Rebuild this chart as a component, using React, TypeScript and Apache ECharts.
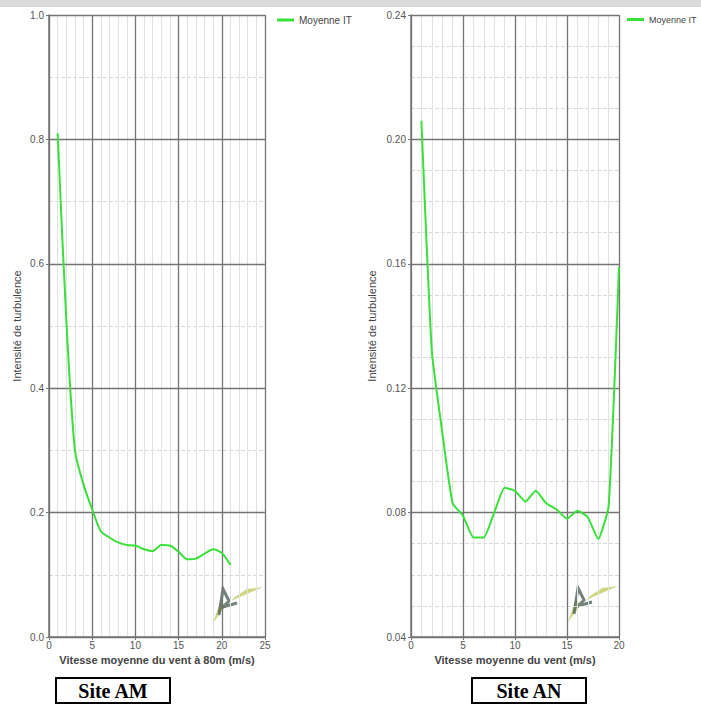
import React, { useEffect, useRef } from 'react';
import * as echarts from 'echarts';

// Site AM: intensité de turbulence vs vitesse (m/s)
const amSpeeds = [1, 2, 3, 4, 5, 6, 7, 8, 9, 10, 11, 12, 13, 14, 15, 16, 17, 18, 19, 20, 21];
const amTurbulence = [
  0.81, 0.51, 0.3, 0.245, 0.205, 0.17, 0.16, 0.152, 0.148, 0.147, 0.141,
  0.138, 0.148, 0.147, 0.137, 0.125, 0.126, 0.134, 0.141, 0.135, 0.116,
];

// Site AN
const anSpeeds = [1, 2, 3, 4, 5, 6, 7, 8, 9, 10, 11, 12, 13, 14, 15, 16, 17, 18, 19, 20];
const anTurbulence = [
  0.206, 0.132, 0.106, 0.083, 0.079, 0.072, 0.072, 0.08, 0.088, 0.087,
  0.0835, 0.087, 0.083, 0.081, 0.078, 0.0806, 0.0785, 0.0715, 0.082, 0.159,
];

const seriesName = 'Moyenne IT';
const yAxisTitle = 'Intensité de turbulence';
const amXTitle = 'Vitesse moyenne du vent à 80m (m/s)';
const anXTitle = 'Vitesse moyenne du vent (m/s)';
const siteLabels = ['Site AM', 'Site AN'];

const GREEN = '#3ae03a';
const FONT = 'Liberation Sans, Arial, sans-serif';
const MAJOR = '#747474';

// main axes: labels, ticks, major grid (drawn on top)
const xAxisMain = (gridIndex: number, max: number, name: string) => ({
  type: 'value' as const,
  gridIndex,
  min: 0,
  max,
  interval: 5,
  z: 2,
  name,
  nameLocation: 'middle' as const,
  nameGap: 17,
  nameTextStyle: { color: '#444', fontSize: 11, fontWeight: 'bold' as const, fontFamily: FONT },
  axisLine: { show: true, lineStyle: { color: MAJOR, width: 1.5 } },
  axisTick: { show: true, length: 3, lineStyle: { color: MAJOR } },
  axisLabel: { color: '#555', fontSize: 10, margin: 3, fontFamily: FONT },
  splitLine: { show: true, lineStyle: { color: MAJOR, width: 1.3 } },
});

// minor-only axes underneath
const xAxisMinor = (gridIndex: number, max: number) => ({
  type: 'value' as const,
  gridIndex,
  min: 0,
  max,
  interval: 5,
  z: 0,
  axisLine: { show: false },
  axisTick: { show: false },
  axisLabel: { show: false },
  splitLine: { show: false },
  minorTick: { show: false, splitNumber: 5 },
  minorSplitLine: { show: true, lineStyle: { color: '#e2e2e2', width: 1 } },
});

const yAxisMain = (gridIndex: number, min: number, max: number, interval: number, digits: number, gap: number) => ({
  type: 'value' as const,
  gridIndex,
  min,
  max,
  interval,
  z: 2,
  name: yAxisTitle,
  nameLocation: 'middle' as const,
  nameGap: gap,
  nameTextStyle: { color: '#444', fontSize: 11, fontFamily: FONT },
  axisLine: { show: true, lineStyle: { color: MAJOR, width: 1.5 } },
  axisTick: { show: true, length: 3, lineStyle: { color: MAJOR } },
  axisLabel: {
    color: '#555',
    fontSize: 10,
    margin: 5,
    fontFamily: FONT,
    formatter: (v: number) => v.toFixed(digits),
  },
  splitLine: { show: true, lineStyle: { color: MAJOR, width: 1.3 } },
});

const yAxisMinor = (gridIndex: number, min: number, max: number, interval: number, minorSplit: number) => ({
  type: 'value' as const,
  gridIndex,
  min,
  max,
  interval,
  z: 0,
  axisLine: { show: false },
  axisTick: { show: false },
  axisLabel: { show: false },
  splitLine: { show: false },
  minorTick: { show: false, splitNumber: minorSplit },
  minorSplitLine: { show: true, lineStyle: { color: '#d8d8d8', width: 1, type: 'dashed' as const } },
});

// rough stand-in for the watermark logo in each plot
const logo = (ox: number, oy: number) => [
  {
    type: 'polygon',
    shape: { points: [[ox + 2, oy + 38], [ox + 10, oy + 14], [ox + 14, oy + 22], [ox + 8, oy + 30]] },
    style: { fill: 'rgba(190,200,90,0.75)' },
  },
  {
    type: 'polygon',
    shape: { points: [[ox + 20, oy + 16], [ox + 52, oy + 2], [ox + 36, oy + 4], [ox + 24, oy + 12]] },
    style: { fill: 'rgba(190,200,90,0.75)' },
  },
  {
    type: 'polyline',
    shape: { points: [[ox + 8, oy + 30], [ox + 12, oy + 4], [ox + 18, oy + 16], [ox + 12, oy + 22], [ox + 26, oy + 18]] },
    style: { stroke: 'rgba(80,100,90,0.8)', lineWidth: 3, fill: 'none' },
  },
];

const siteBox = (x: number, label: string) => [
  {
    type: 'rect',
    shape: { x, y: 678, width: 114, height: 25 },
    style: { fill: '#fff', stroke: '#000', lineWidth: 2 },
  },
  {
    type: 'text',
    x: x + 57,
    y: 691,
    style: {
      text: label,
      fill: '#000',
      font: 'bold 20px "Liberation Serif", "Times New Roman", serif',
      align: 'center',
      verticalAlign: 'middle',
    },
  },
];

export default function App() {
  const ref = useRef<HTMLDivElement>(null);

  useEffect(() => {
    if (!ref.current) return;
    const chart = echarts.init(ref.current, undefined, { renderer: 'svg' });

    chart.setOption({
      animation: false,
      backgroundColor: '#ffffff',
      grid: [
        { left: 49, top: 15, width: 216, height: 622, show: false },
        { left: 411, top: 15, width: 208, height: 622, show: false },
      ],
      xAxis: [
        xAxisMain(0, 25, amXTitle),
        xAxisMain(1, 20, anXTitle),
        xAxisMinor(0, 25),
        xAxisMinor(1, 20),
      ],
      yAxis: [
        yAxisMain(0, 0, 1, 0.2, 1, 27),
        yAxisMain(1, 0.04, 0.24, 0.04, 2, 34),
        yAxisMinor(0, 0, 1, 0.2, 2),
        yAxisMinor(1, 0.04, 0.24, 0.04, 4),
      ],
      legend: [
        {
          left: 272,
          top: 10,
          data: [{ name: seriesName, icon: 'rect' }],
          itemWidth: 17,
          itemHeight: 3,
          itemGap: 4,
          textStyle: { fontSize: 10, color: '#444', fontFamily: FONT },
        },
        {
          left: 622,
          top: 10,
          padding: [5, 2, 5, 5],
          data: [{ name: seriesName + ' ', icon: 'rect' }],
          itemWidth: 17,
          itemHeight: 3,
          itemGap: 3,
          textStyle: { fontSize: 9, color: '#444', fontFamily: FONT },
        },
      ],
      series: [
        {
          name: seriesName,
          type: 'line',
          xAxisIndex: 0,
          yAxisIndex: 0,
          z: 5,
          data: amSpeeds.map((s, i) => [s, amTurbulence[i]]),
          symbol: 'none',
          smooth: 0.25,
          lineStyle: { color: GREEN, width: 2 },
          itemStyle: { color: GREEN },
        },
        {
          name: seriesName + ' ',
          type: 'line',
          xAxisIndex: 1,
          yAxisIndex: 1,
          z: 5,
          data: anSpeeds.map((s, i) => [s, anTurbulence[i]]),
          symbol: 'none',
          smooth: 0.15,
          lineStyle: { color: GREEN, width: 2 },
          itemStyle: { color: GREEN },
        },
      ],
      graphic: [
        { type: 'rect', shape: { x: 0, y: 0, width: 701, height: 7 }, style: { fill: '#dadada' }, z: -1 },
        ...logo(211, 585),
        ...logo(566, 584),
        ...siteBox(56, siteLabels[0]),
        ...siteBox(472, siteLabels[1]),
      ],
    });

    return () => chart.dispose();
  }, []);

  return (
    <div
      ref={ref}
      style={{ position: 'absolute', left: 0, top: 0, width: 701, height: 704 }}
    />
  );
}
